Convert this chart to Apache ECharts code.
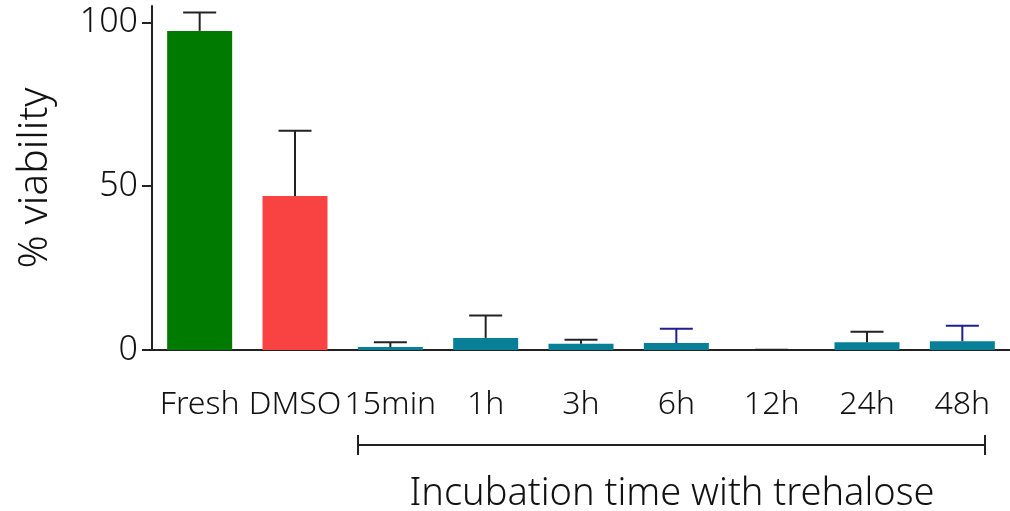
<!DOCTYPE html>
<html>
<head>
<meta charset="utf-8">
<script src="https://cdn.jsdelivr.net/npm/echarts@6/dist/echarts.min.js"></script>
<style>
    html, body { margin: 0; padding: 0; background: #fff; }
    #chart { width: 1010px; height: 511px; }
</style>
</head>
<body>
<div id="chart"></div>
<script>
var categories = ['Fresh', 'DMSO', '15min', '1h', '3h', '6h', '12h', '24h', '48h'];
var viability = [97.4, 47.0, 0.9, 3.7, 1.9, 2.1, 0, 2.4, 2.7];
var errorTop = [103.0, 66.9, 2.4, 10.5, 3.1, 6.5, 0.1, 5.6, 7.4];
var barColors = ['#007a00', '#f94343', '#077f97', '#077f97', '#077f97', '#077f97', '#077f97', '#077f97', '#077f97'];
var errorColors = ['#222', '#222', '#222', '#222', '#222', '#1f1f8f', '#222', '#222', '#1f1f8f'];
var yTicks = [0, 50, 100];

var font = '"Noto Sans", "Open Sans", sans-serif';

var chart = echarts.init(document.getElementById('chart'));

var errData = [];
for (var i = 0; i < categories.length; i++) {
    errData.push([i, viability[i], errorTop[i]]);
}

var option = {
    backgroundColor: '#fff',
    animation: false,
    grid: {
        left: 152,
        right: -13,
        top: 6,
        bottom: 161
    },
    xAxis: {
        type: 'category',
        data: categories,
        axisLine: { lineStyle: { color: '#222', width: 2 } },
        axisTick: { alignWithLabel: true, length: 10, lineStyle: { color: '#222', width: 2 } },
        axisLabel: {
            interval: 0,
            margin: 39,
            color: '#111',
            fontFamily: font,
            fontSize: 32,
            fontWeight: 300
        }
    },
    yAxis: {
        type: 'value',
        min: 0,
        max: 105,
        splitLine: { show: false },
        axisLine: { show: true, lineStyle: { color: '#222', width: 2 } },
        axisTick: { show: true, length: 10, customValues: yTicks, lineStyle: { color: '#222', width: 2 } },
        axisLabel: {
            customValues: yTicks,
            margin: 14,
            color: '#111',
            fontFamily: font,
            fontSize: 34,
            fontWeight: 300
        },
        name: '% viability',
        nameLocation: 'middle',
        nameRotate: 90,
        nameGap: 96,
        nameTextStyle: {
            color: '#111',
            fontFamily: font,
            fontSize: 41,
            fontWeight: 300
        }
    },
    series: [{
        type: 'bar',
        barWidth: 65,
        data: viability.map(function (v, i) {
            return { value: v, itemStyle: { color: barColors[i] } };
        })
    }, {
        type: 'custom',
        data: errData,
        z: 3,
        renderItem: function (params, api) {
            var idx = api.value(0);
            var base = api.coord([idx, api.value(1)]);
            var top = api.coord([idx, api.value(2)]);
            var half = 16.5;
            var c = errorColors[idx];
            var style = { stroke: c, lineWidth: 2 };
            return {
                type: 'group',
                children: [{
                    type: 'line',
                    shape: { x1: base[0], y1: base[1], x2: top[0], y2: top[1] },
                    style: style
                }, {
                    type: 'line',
                    shape: { x1: top[0] - half, y1: top[1], x2: top[0] + half, y2: top[1] },
                    style: style
                }]
            };
        }
    }],
    graphic: [{
        type: 'group',
        children: [{
            type: 'line',
            shape: { x1: 358, y1: 445, x2: 985, y2: 445 },
            style: { stroke: '#222', lineWidth: 2 }
        }, {
            type: 'line',
            shape: { x1: 358, y1: 435, x2: 358, y2: 455 },
            style: { stroke: '#222', lineWidth: 2 }
        }, {
            type: 'line',
            shape: { x1: 985, y1: 435, x2: 985, y2: 455 },
            style: { stroke: '#222', lineWidth: 2 }
        }]
    }, {
        type: 'text',
        x: 672,
        y: 494,
        style: {
            text: 'Incubation time with trehalose',
            align: 'center',
            verticalAlign: 'middle',
            fill: '#111',
            fontFamily: font,
            fontSize: 38,
            fontWeight: 300
        }
    }]
};

chart.setOption(option);
</script>
</body>
</html>
